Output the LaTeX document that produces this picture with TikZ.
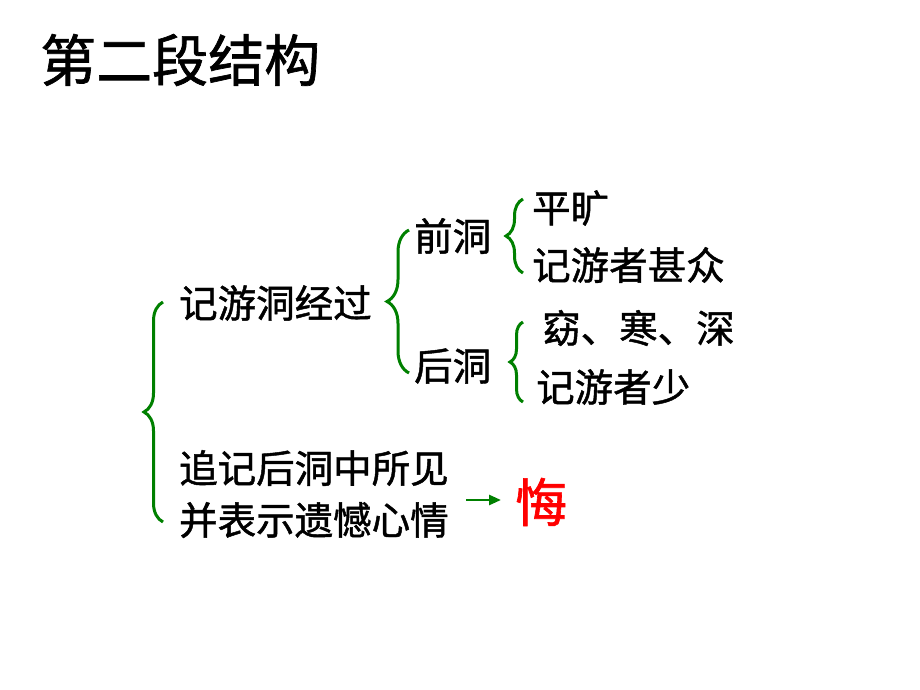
\documentclass[tikz,border=0pt]{standalone}
\usepackage{fontspec}
\setmainfont[FakeBold=1.2]{Noto Sans CJK SC}
\usetikzlibrary{decorations.pathreplacing,arrows.meta}
\definecolor{brgreen}{RGB}{0,128,0}
\definecolor{hred}{RGB}{255,0,0}
\begin{document}
\begin{tikzpicture}[x=1pt,y=-1pt,
  txt/.style={anchor=west,inner sep=0pt,font=\fontsize{38.5}{38.5}\selectfont},
  ttl/.style={anchor=west,inner sep=0pt,font=\fontsize{56}{56}\selectfont},
  brc/.style={draw=brgreen,line width=3pt,decorate,decoration={brace,amplitude=#1}},
  arr/.style={draw=brgreen,line width=2.6pt,-{Triangle[length=12pt,width=10pt]}}]
\useasboundingbox (0,0) rectangle (920,690);
\node[ttl] (title) at (40,60) {第二段结构};
\node[txt] (a) at (179,303) {记游洞经过};
\node[txt] (b1) at (414,236) {前洞};
\node[txt] (b2) at (414,366) {后洞};
\node[txt] (c1) at (532,208) {平旷};
\node[txt] (c2) at (532,265) {记游者甚众};
\node[txt] (d1) at (542,328) {窈、寒、深};
\node[txt] (d2) at (536,387) {记游者少};
\node[txt] (e1) at (179,468) {追记后洞中所见};
\node[txt] (e2) at (179,520) {并表示遗憾心情};
\node[anchor=west,inner sep=0pt,font=\fontsize{52}{52}\selectfont,text=hred] (hui) at (515,502) {悔};
\coordinate (A1) at (163,522); \coordinate (A2) at (163,302);
\coordinate (B1) at (409,373); \coordinate (B2) at (409,230);
\coordinate (C1) at (523,273); \coordinate (C2) at (523,199);
\coordinate (D1) at (523,402); \coordinate (D2) at (523,322);
\coordinate (R1) at (466,500); \coordinate (R2) at (501,500);
\path[brc=19pt] (A1) -- (A2);
\path[brc=22pt] (B1) -- (B2);
\path[brc=17pt] (C1) -- (C2);
\path[brc=13pt] (D1) -- (D2);
\draw[arr] (R1) -- (R2);
\end{tikzpicture}
\end{document}
